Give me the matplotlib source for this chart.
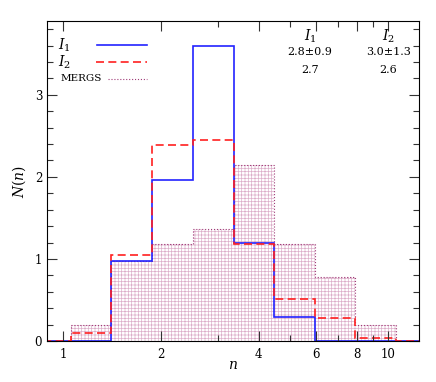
import matplotlib
matplotlib.use("Agg")
import matplotlib.pyplot as plt
from matplotlib.ticker import FixedLocator, MultipleLocator, NullFormatter

plt.rcParams['font.family'] = ['DejaVu Serif']
plt.rcParams['mathtext.fontset'] = 'dejavuserif'
plt.rcParams['hatch.linewidth'] = 0.5

# bin edges in n (log spaced), with zero-height bins padding both ends
edges = [0.8, 1.06, 1.41, 1.88, 2.51, 3.35, 4.47, 5.96, 7.94, 10.6, 14.0]
i1 = [0, 0, 0.98, 1.96, 3.60, 1.19, 0.29, 0, 0, 0]
i2 = [0, 0.10, 1.05, 2.39, 2.45, 1.18, 0.51, 0.28, 0.04, 0]
mergs = [0, 0.20, 0.97, 1.18, 1.37, 2.15, 1.18, 0.78, 0.20, 0]

stats_rows = [("$I_1$", "$I_2$"), ("2.8\u00b10.9", "3.0\u00b11.3"), ("2.7", "2.6")]

xmajor = [1, 2, 4, 6, 8, 10]
xminor = [3, 5, 7, 9]

mcol = '#a03c78'
dash = (0, (4.8, 2.6))

fig = plt.figure(figsize=(4.36, 3.82), dpi=100)
ax = fig.add_axes([0.1078, 0.1073, 0.8532, 0.8377])

ax.stairs(mergs, edges, fill=True, facecolor='none', edgecolor=(0.68, 0.25, 0.5, 0.42),
          hatch='+++++', linewidth=0)
ax.stairs(mergs, edges, color=mcol, linestyle=':', linewidth=0.8)
ax.stairs(i1, edges, color='#2222ff', linewidth=1.2)
ax.stairs(i2, edges, color='#ff2020', linewidth=1.2, linestyle=dash)

ax.set_xscale('log')
ax.set_xlim(0.893, 12.45)
ax.set_ylim(0, 3.9)

ax.xaxis.set_major_locator(FixedLocator(xmajor))
ax.xaxis.set_major_formatter(matplotlib.ticker.FixedFormatter([str(v) for v in xmajor]))
ax.xaxis.set_minor_locator(FixedLocator(xminor))
ax.xaxis.set_minor_formatter(NullFormatter())
ax.yaxis.set_major_locator(MultipleLocator(1))
ax.yaxis.set_minor_locator(MultipleLocator(0.2))
ax.tick_params(which='both', direction='in', top=True, right=True, labelsize=8.5, color='#333333')
ax.tick_params(which='major', length=7, width=0.8)
ax.tick_params(which='minor', length=4, width=0.8)
ax.tick_params(axis='x', pad=5)

ax.set_xlabel('$n$', fontsize=10, labelpad=-2)
ax.set_ylabel('$N(n)$', fontsize=10, labelpad=5)

# legend drawn by hand: labels on the left, samples on the right
ax.text(0.03, 0.925, '$I_1$', transform=ax.transAxes, fontsize=10, va='center')
ax.text(0.03, 0.872, '$I_2$', transform=ax.transAxes, fontsize=10, va='center')
ax.text(0.035, 0.819, 'MERGS', transform=ax.transAxes, fontsize=7.5, va='center')
ax.plot([0.134, 0.269], [0.925, 0.925], transform=ax.transAxes, color='#2222ff', lw=1.2)
ax.plot([0.132, 0.269], [0.872, 0.872], transform=ax.transAxes, color='#ff2020', lw=1.2,
        linestyle=dash)
ax.plot([0.164, 0.269], [0.819, 0.819], transform=ax.transAxes, color=mcol, lw=0.8, linestyle=':')

ys = [0.953, 0.903, 0.847]
for (a, b), y in zip(stats_rows, ys):
    fs = 10 if a.startswith('$') else 8
    ax.text(0.707, y, a, transform=ax.transAxes, fontsize=fs, ha='center', va='center')
    ax.text(0.917, y, b, transform=ax.transAxes, fontsize=fs, ha='center', va='center')

fig.savefig('out.png', dpi=100)
